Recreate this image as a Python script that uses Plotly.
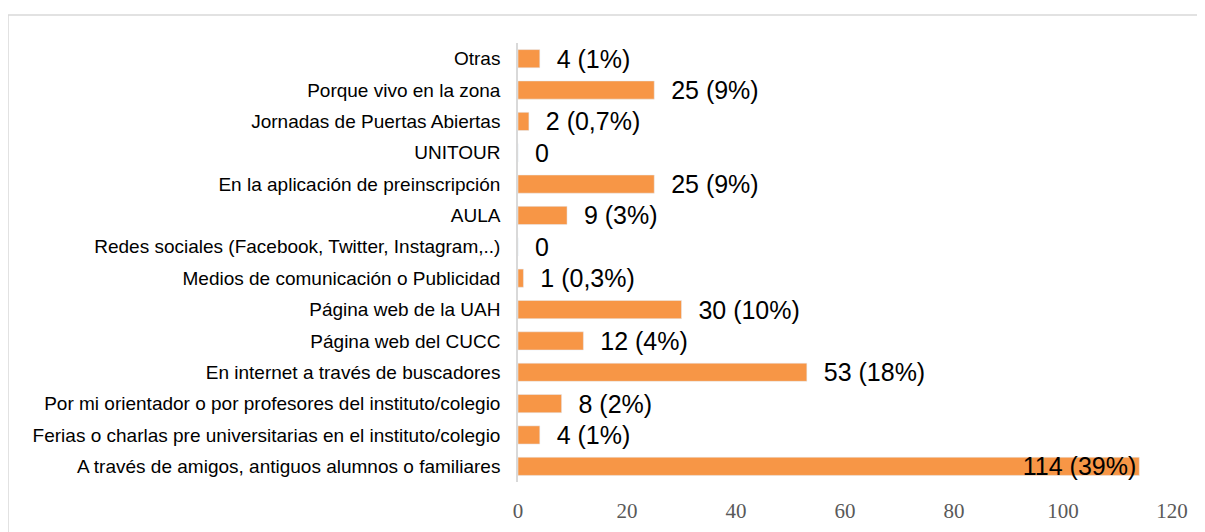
import plotly.graph_objects as go

categories = [
    "Otras",
    "Porque vivo en la zona",
    "Jornadas de Puertas Abiertas",
    "UNITOUR",
    "En la aplicación de preinscripción",
    "AULA",
    "Redes sociales (Facebook, Twitter, Instagram,..)",
    "Medios de comunicación o Publicidad",
    "Página web de la UAH",
    "Página web del CUCC",
    "En internet a través de buscadores",
    "Por mi orientador o por profesores del instituto/colegio",
    "Ferias o charlas pre universitarias en el instituto/colegio",
    "A través de amigos, antiguos alumnos o familiares",
]
values = [4, 25, 2, 0, 25, 9, 0, 1, 30, 12, 53, 8, 4, 114]
value_labels = ["4 (1%)", "25 (9%)", "2 (0,7%)", "0", "25 (9%)", "9 (3%)", "0",
                "1 (0,3%)", "30 (10%)", "12 (4%)", "53 (18%)", "8 (2%)", "4 (1%)",
                "114 (39%)"]
tick_vals = [0, 20, 40, 60, 80, 100, 120]

positions = ["outside"] * (len(values) - 1) + ["inside"]
texts = ["  " + t if p == "outside" else t for t, p in zip(value_labels, positions)]

fig = go.Figure(go.Bar(
    y=categories, x=values, orientation="h",
    marker=dict(color="#F79646"),
    width=0.58,
    text=texts, textposition=positions,
    insidetextanchor="end",
    constraintext="none",
    textfont=dict(family="Liberation Sans, Arial, sans-serif", size=25, color="#000000"),
    cliponaxis=False,
))

fig.update_layout(
    width=1205, height=532,
    margin=dict(l=510, r=41, t=35, b=58),
    paper_bgcolor="white", plot_bgcolor="white",
    showlegend=False,
    xaxis=dict(range=[0, 120], tickvals=tick_vals, showgrid=False, zeroline=False,
               showline=False, ticks="", ticklabelstandoff=14,
               tickfont=dict(family="Liberation Serif, serif", size=21, color="#595959")),
    yaxis=dict(autorange="reversed", showgrid=False, zeroline=False,
               showline=True, linecolor="#D9D9D9", linewidth=1.5, ticks="",
               ticklabelstandoff=12,
               tickfont=dict(family="Liberation Sans, Arial, sans-serif", size=19, color="#000000")),
    shapes=[dict(type="rect", xref="paper", yref="paper",
                 x0=(8 - 518) / 654, x1=(1215 - 518) / 654,
                 y0=-0.3, y1=(482 - 15) / 439,
                 line=dict(color="#D9D9D9", width=1.5), layer="below")],
)

fig.write_html("out.html")
